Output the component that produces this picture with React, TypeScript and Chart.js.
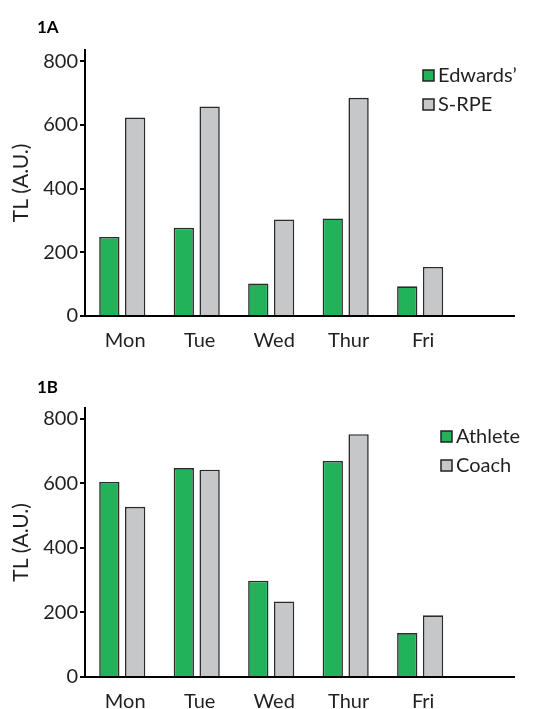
import React, { useEffect, useRef } from "react";
import { Chart, registerables } from "chart.js";

Chart.register(...registerables);

const days = ["Mon", "Tue", "Wed", "Thur", "Fri"];
const yTicks = [0, 200, 400, 600, 800];

const edwards = [248, 277, 102, 306, 93];
const srpe = [623, 658, 303, 685, 154];

const athlete = [604, 647, 298, 669, 136];
const coach = [527, 642, 234, 752, 191];

const GREEN = "#22b259";
const GREY = "#c6c7c9";
const EDGE = "#2b2b2b";
const INK = "#231f20";
const FONT = "Lato";

const cornerLegend = {
  id: "cornerLegend",
  afterDraw(chart: any, _args: any, opts: any) {
    const { ctx, chartArea } = chart;
    ctx.save();
    ctx.font = `20px ${FONT}`;
    ctx.textBaseline = "middle";
    ctx.textAlign = "left";
    chart.data.datasets.forEach((ds: any, i: number) => {
      const x = chartArea.right - opts.dx;
      const y = chartArea.top + opts.dy + i * 29;
      ctx.fillStyle = ds.backgroundColor;
      ctx.fillRect(x, y, 11, 11);
      ctx.lineWidth = 1.5;
      ctx.strokeStyle = "#222";
      ctx.strokeRect(x, y, 11, 11);
      ctx.fillStyle = INK;
      ctx.fillText(ds.label, x + 15, y + 6);
    });
    ctx.font = `bold 17px ${FONT}`;
    ctx.textBaseline = "alphabetic";
    ctx.textAlign = "left";
    ctx.fillStyle = "#000";
    ctx.fillText(opts.panel, 37, opts.panelY);
    ctx.restore();
  },
};

type PanelProps = {
  panel: string;
  panelY: number;
  seriesA: number[];
  seriesB: number[];
  nameA: string;
  nameB: string;
  height: number;
  areaTop: number;
  areaBottom: number;
  legendDx: number;
  legendDy: number;
  yMax: number;
};

function Panel(p: PanelProps) {
  const ref = useRef<HTMLCanvasElement | null>(null);
  useEffect(() => {
    if (!ref.current) return;
    const chart = new Chart(ref.current, {
      type: "bar",
      data: {
        datasets: [
          {
            label: p.nameA,
            data: days.map((_, i) => ({ x: i, y: p.seriesA[i] })),
            backgroundColor: GREEN,
            borderColor: EDGE,
            borderWidth: 1.6,
            borderSkipped: "bottom",
            categoryPercentage: 0.693,
            barPercentage: 0.787,
          },
          {
            label: p.nameB,
            data: days.map((_, i) => ({ x: i, y: p.seriesB[i] })),
            backgroundColor: GREY,
            borderColor: EDGE,
            borderWidth: 1.6,
            borderSkipped: "bottom",
            categoryPercentage: 0.693,
            barPercentage: 0.787,
          },
        ],
      } as any,
      options: {
        responsive: false,
        animation: false,
        layout: { padding: { left: 0, right: 30, top: p.areaTop, bottom: 0 } },
        plugins: {
          legend: { display: false },
          tooltip: { enabled: false },
          cornerLegend: { dx: p.legendDx, dy: p.legendDy, panel: p.panel, panelY: p.panelY },
        } as any,
        scales: {
          x: {
            type: "linear",
            min: -0.5,
            max: 5.26,
            offset: false,
            grid: { display: false, drawTicks: false, offset: false },
            border: { display: true, color: "#000", width: 2 },
            afterBuildTicks: (axis: any) => {
              axis.ticks = days.map((_, i) => ({ value: i }));
            },
            afterFit: (scale: any) => {
              scale.height = p.height - p.areaBottom;
            },
            ticks: {
              autoSkip: false,
              maxRotation: 0,
              padding: 13,
              labelOffset: 3,
              color: INK,
              font: { family: FONT, size: 20 },
              callback: (v: any) => days[v] ?? "",
            },
          },
          y: {
            type: "linear",
            min: 0,
            max: p.yMax,
            grid: {
              display: true,
              drawOnChartArea: false,
              drawTicks: true,
              tickLength: 5,
              color: "#000",
              lineWidth: 2,
            },
            border: { display: true, color: "#000", width: 2 },
            afterBuildTicks: (axis: any) => {
              axis.ticks = yTicks.map((v) => ({ value: v }));
            },
            afterFit: (scale: any) => {
              scale.width = 85;
            },
            ticks: {
              padding: 2,
              color: INK,
              font: { family: FONT, size: 20 },
              callback: (v: any) => String(v),
            },
            title: {
              display: true,
              text: "TL (A.U.)",
              color: INK,
              font: { family: FONT, size: 21 },
              padding: { top: 9, bottom: 0 },
            },
          },
        },
      } as any,
      plugins: [cornerLegend as any],
    });
    return () => chart.destroy();
  }, []);
  return (
    <canvas
      ref={ref}
      width={544}
      height={p.height}
      style={{ display: "block", width: 544, height: p.height }}
    />
  );
}

export default function App() {
  return (
    <div style={{ position: "absolute", left: 0, top: 0, width: 544, height: 709, background: "#fff" }}>
      <Panel
        panel="1A"
        panelY={33}
        seriesA={edwards}
        seriesB={srpe}
        nameA="Edwards’"
        nameB="S-RPE"
        height={355}
        areaTop={50}
        areaBottom={316}
        legendDx={91}
        legendDy={20}
        yMax={835}
      />
      <Panel
        panel="1B"
        panelY={38}
        seriesA={athlete}
        seriesB={coach}
        nameA="Athlete"
        nameB="Coach"
        height={354}
        areaTop={53}
        areaBottom={322}
        legendDx={73}
        legendDy={23}
        yMax={833}
      />
    </div>
  );
}
